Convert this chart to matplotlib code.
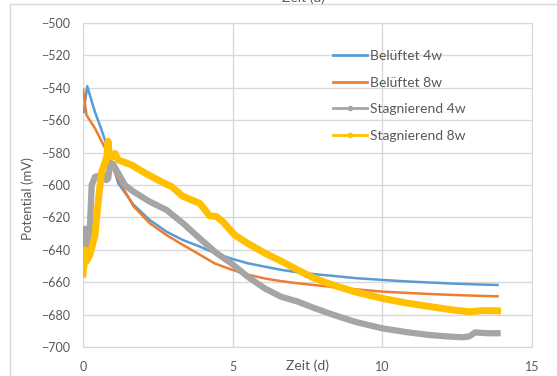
import matplotlib
matplotlib.use("Agg")
import matplotlib.pyplot as plt
from matplotlib.lines import Line2D
from matplotlib.patches import Rectangle

# Belüftet 4w
t_b4 = [0.02, 0.14, 0.4, 0.62, 0.84, 1.18, 1.68, 2.23, 2.79, 3.34, 3.9, 4.4, 5.0, 5.5,
        6.07, 6.6, 7.18, 7.7, 8.3, 9.1, 10.0, 10.8, 11.6, 12.4, 13.2, 13.85]
v_b4 = [-555, -539, -555, -566, -578, -599, -612, -621.6, -628.8, -634, -638, -642, -645.7, -648.3,
        -650.4, -652.3, -653.9, -655, -656, -657.5, -658.6, -659.5, -660.2, -660.9, -661.4, -661.7]

# Belüftet 8w
t_b8 = [0.0, 0.12, 0.4, 0.73, 0.85, 1.0, 1.23, 1.68, 2.23, 2.79, 3.34, 3.9, 4.4, 5.0, 5.5,
        6.07, 6.6, 7.18, 8.0, 9.1, 10.0, 10.8, 11.6, 12.4, 13.2, 13.85]
v_b8 = [-541, -557, -565, -577, -583, -590, -598, -613, -623.6, -630.9, -637, -643, -648.4, -652.5, -655.3,
        -657.7, -659.3, -660.7, -662.3, -664.4, -665.8, -666.6, -667.3, -667.9, -668.4, -668.7]

# Stagnierend 4w
t_s4 = [0.0, 0.07, 0.1, 0.17, 0.22, 0.29, 0.4, 0.6, 0.73, 0.78, 0.84, 0.9, 1.0, 1.4, 1.68,
        2.23, 2.79, 3.34, 3.9, 4.46, 5.0, 5.5, 6.07, 6.62, 7.18, 7.73, 8.34, 9.1, 10.0,
        10.8, 11.57, 12.2, 12.67, 12.9, 13.1, 13.5, 13.85]
v_s4 = [-639, -627, -641, -637, -630, -600, -595, -594, -594, -597, -596, -588, -587, -600, -604,
        -610.3, -615.4, -623.6, -633, -642, -649, -656.6, -663.8, -669, -672, -676, -680, -684.5, -688.5,
        -690.8, -692.6, -693.5, -694, -693.5, -691, -691.5, -691.5]

# Stagnierend 8w
t_s8 = [0.0, 0.04, 0.07, 0.12, 0.23, 0.4, 0.51, 0.62, 0.73, 0.8, 0.84, 0.88, 0.95, 1.07, 1.17,
        1.62, 2.07, 2.62, 2.96, 3.34, 3.9, 4.23, 4.46, 4.67, 5.07, 5.5, 6.07, 6.62, 7.18,
        7.73, 8.34, 9.1, 10.0, 10.8, 11.57, 12.3, 12.9, 13.4, 13.85]
v_s8 = [-655, -648, -640, -647, -643, -631, -610, -592, -586.5, -582, -573, -582, -583, -580.5, -584.5,
        -587.6, -592.6, -598, -601, -607, -611.3, -619, -619.5, -622.6, -630.9, -636, -642, -647, -652.5,
        -657.6, -661.7, -666, -670, -672.8, -675, -677, -678.2, -677.5, -677.7]

labels = ["Belüftet 4w", "Belüftet 8w", "Stagnierend 4w", "Stagnierend 8w"]
colors = ["#5B9BD5", "#ED7D31", "#A5A5A5", "#FFC000"]

plt.rcParams['font.family'] = ['Lato', 'DejaVu Sans']
txt = "#595959"
grid = "#D9D9D9"

fig = plt.figure(figsize=(5.57, 3.76), dpi=100)
ax = fig.add_axes([83/557, 1-347/376, 449/557, 324/376])

ax.plot(t_b4, v_b4, color=colors[0], lw=1.8, zorder=3)
ax.plot(t_b8, v_b8, color=colors[1], lw=1.8, zorder=3)
ax.plot(t_s4, v_s4, color=colors[2], lw=4.5, zorder=4, solid_joinstyle='round')
ax.plot(t_s8, v_s8, color=colors[3], lw=5, zorder=5, solid_joinstyle='round')

ax.set_xlim(0, 15)
ax.set_ylim(-700, -500)
ax.set_xticks([0, 5, 10, 15])
ax.set_yticks(range(-700, -499, 20))
ax.grid(True, color=grid, lw=1)
ax.set_axisbelow(True)
ax.tick_params(length=0, labelsize=9, labelcolor=txt)
ax.tick_params(axis='y', pad=9)
ax.tick_params(axis='x', pad=10)
for s in ax.spines.values():
    s.set_color(grid)

fig.text(307/557, 1-366/376, "Zeit (d)", fontsize=10, color=txt, ha='center', va='center')
fig.text(28/557, 1-199/376, "Potential (mV)", fontsize=9.5, color=txt, rotation=90,
         ha='center', va='center')
# cut-off title at the top edge
fig.text(303/557, 1+2/376, "Zeit (d)", fontsize=10, color=txt, ha='center', va='center')

# chart area border
fig.patches.append(Rectangle((10/557, -0.1), 1.2, 1-4/376+0.1, transform=fig.transFigure,
                             fill=False, edgecolor=grid, lw=1))

handles = [
    Line2D([], [], color=colors[0], lw=2),
    Line2D([], [], color=colors[1], lw=2),
    Line2D([], [], color=colors[2], lw=2, marker='o', markersize=3),
    Line2D([], [], color=colors[3], lw=2, marker='o', markersize=3),
]
leg = ax.legend(handles, labels, loc='upper left', bbox_to_anchor=(333/557, 1-50/376),
                bbox_transform=fig.transFigure, frameon=False, fontsize=10,
                handlelength=2.45, handletextpad=0.22, labelspacing=1.05,
                borderpad=0, borderaxespad=0)
for t in leg.get_texts():
    t.set_color(txt)

fig.savefig("out.png", dpi=100)
